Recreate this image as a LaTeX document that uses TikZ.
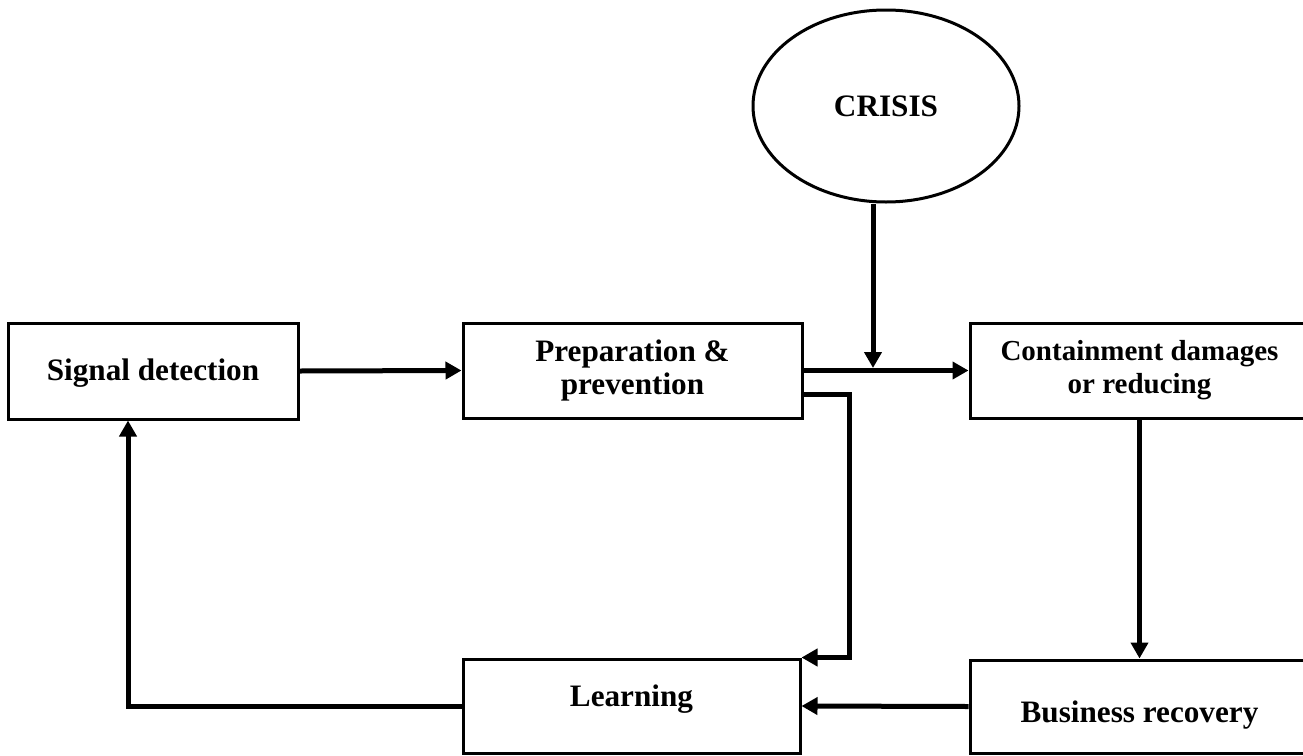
\documentclass[tikz,border=0pt]{standalone}
\usepackage{fontspec}
\setmainfont{Liberation Serif}
\usetikzlibrary{arrows.meta,shapes.geometric}
\tikzset{
  box/.style={draw, line width=3pt, rectangle, inner sep=0pt, align=center,
    font=\fontsize{31.2}{33}\selectfont\bfseries},
  oval/.style={draw, line width=3pt, ellipse, inner sep=0pt,
    minimum width=266pt, minimum height=192pt,
    font=\fontsize{31.2}{33}\selectfont\bfseries},
  arr/.style={line width=5pt, -{Triangle[length=16pt,width=17pt]}},
  conn/.style={line width=5pt}
}
\begin{document}
\begin{tikzpicture}[x=1pt,y=-1pt]
\useasboundingbox (0,0) rectangle (1303,755);
\clip (0,0) rectangle (1303,755);
\fill[white] (0,0) rectangle (1303,755);
\node[box, minimum width=290pt, minimum height=96pt, text height=24pt, text depth=6pt] (sig) at (153,371) {Signal detection};
\node[box, minimum width=339pt, minimum height=95pt] (prep) at (632.5,370.5) {Preparation \&\\prevention};
\node[box, minimum width=339pt, minimum height=95pt, font=\fontsize{29}{33}\selectfont\bfseries] (cont) at (1139.5,370.5) {Containment damages\\or reducing};
\node[box, minimum width=337pt, minimum height=94pt, text height=10pt, text depth=10pt] (learn) at (631.5,706) {Learning};
\node[box, minimum width=339pt, minimum height=93pt, text height=31pt, text depth=0pt] (bus) at (1139.5,706.5) {Business recovery};
\node[oval] (crisis) at (886,106) {CRISIS};
\coordinate (j) at (873,368);
\draw[arr] (sig.east) -- (prep.west);
\draw[arr] (prep.east) -- (cont.west);
\draw[arr] (crisis.south -| j) -- (j);
\draw[arr] ([yshift=-24pt]prep.east) -- ++(46,0) |- (learn.north east);
\draw[arr] (cont.south) -- (bus.north);
\draw[arr] (bus.west) -- (learn.east);
\draw[arr] (learn.west) -| ([xshift=-25pt]sig.south);
\end{tikzpicture}
\end{document}
